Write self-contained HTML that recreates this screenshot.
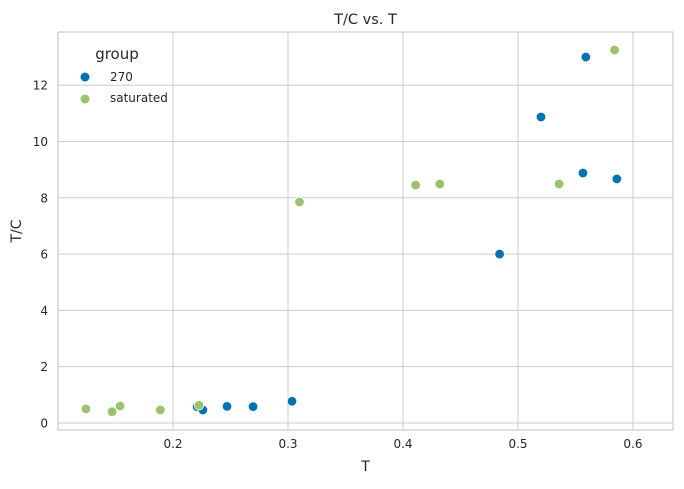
<!DOCTYPE html>
<html><head><meta charset="utf-8"><style>
body{margin:0;background:#fff;font-family:"Liberation Sans","DejaVu Sans",sans-serif;}
svg text{font-family:"DejaVu Sans","Liberation Sans",sans-serif;}
</style></head><body>
<svg id="chart" width="684" height="484" xmlns="http://www.w3.org/2000/svg">
<rect x="0" y="0" width="684" height="484" fill="#fff"/>
<g id="grid"></g>
<g id="ticks"></g>
<g id="points"></g>
<text x="365.5" y="24" font-size="14.5" text-anchor="middle" fill="#262626">T/C vs. T</text>
<text x="365.5" y="471" font-size="14" text-anchor="middle" fill="#262626">T</text>
<text x="21" y="231" font-size="14" text-anchor="middle" fill="#262626" transform="rotate(-90 21 231)">T/C</text>
<g>
<text x="117" y="59" font-size="15" text-anchor="middle" fill="#262626">group</text>
<circle cx="85" cy="77" r="4.5" fill="#0072b2"/>
<text x="110" y="81" font-size="12" fill="#262626">270</text>
<circle cx="85" cy="99" r="4.5" fill="#9dc26d"/>
<text x="110" y="102" font-size="12" fill="#262626">saturated</text>
</g>
</svg>
<script>
const xTicks=[0.2,0.3,0.4,0.5,0.6];
const yTicks=[0,2,4,6,8,10,12];
const blueT=[0.221,0.226,0.247,0.2696,0.3035,0.484,0.52,0.5565,0.559,0.586];
const blueTC=[0.58,0.46,0.59,0.58,0.77,6.0,10.87,8.88,13.0,8.67];
const greenT=[0.1243,0.147,0.154,0.189,0.2226,0.310,0.411,0.432,0.5357,0.584];
const greenTC=[0.50,0.40,0.60,0.46,0.63,7.85,8.45,8.49,8.49,13.25];

const L=58,R=673,T=32,B=430;
const xMin=0.1,xMax=0.6348,yMin=-0.25,yMax=13.89;
const sx=v=>L+(v-xMin)/(xMax-xMin)*(R-L);
const sy=v=>B-(v-yMin)/(yMax-yMin)*(B-T);
const NS="http://www.w3.org/2000/svg";
function mk(tag,attrs,parent){const e=document.createElementNS(NS,tag);for(const k in attrs)e.setAttribute(k,attrs[k]);parent.appendChild(e);return e;}
const grid=document.getElementById('grid'),ticks=document.getElementById('ticks'),pts=document.getElementById('points');
xTicks.forEach(v=>{
  const l=mk('line',{x1:sx(v),x2:sx(v),y1:T,y2:B,stroke:'#cccccc','stroke-width':1},grid);
  
  
  const t=mk('text',{x:sx(v),y:B+18,'font-size':12,'text-anchor':'middle',fill:'#262626'},ticks);
  t.textContent=v.toFixed(1);
  
  
});
yTicks.forEach(v=>{
  const l=mk('line',{x1:L,x2:R,y1:sy(v),y2:sy(v),stroke:'#cccccc','stroke-width':1},grid);
  
  
  const t=mk('text',{x:L-10,y:sy(v)+4.5,'font-size':12,'text-anchor':'end',fill:'#262626'},ticks);
  t.textContent=v;
  
  
});
const frame=mk('rect',{x:L,y:T,width:R-L,height:B-T,fill:'none',stroke:'#cccccc','stroke-width':1.25},grid);


blueT.forEach((v,i)=>{
  const c=mk('circle',{cx:sx(v),cy:sy(blueTC[i]),r:4.8,fill:'#0072b2',stroke:'#fff','stroke-width':0.8},pts);
  
  
});
greenT.forEach((v,i)=>{
  const c=mk('circle',{cx:sx(v),cy:sy(greenTC[i]),r:4.8,fill:'#9dc26d',stroke:'#fff','stroke-width':0.8},pts);
  
  
});
</script>
</body></html>
